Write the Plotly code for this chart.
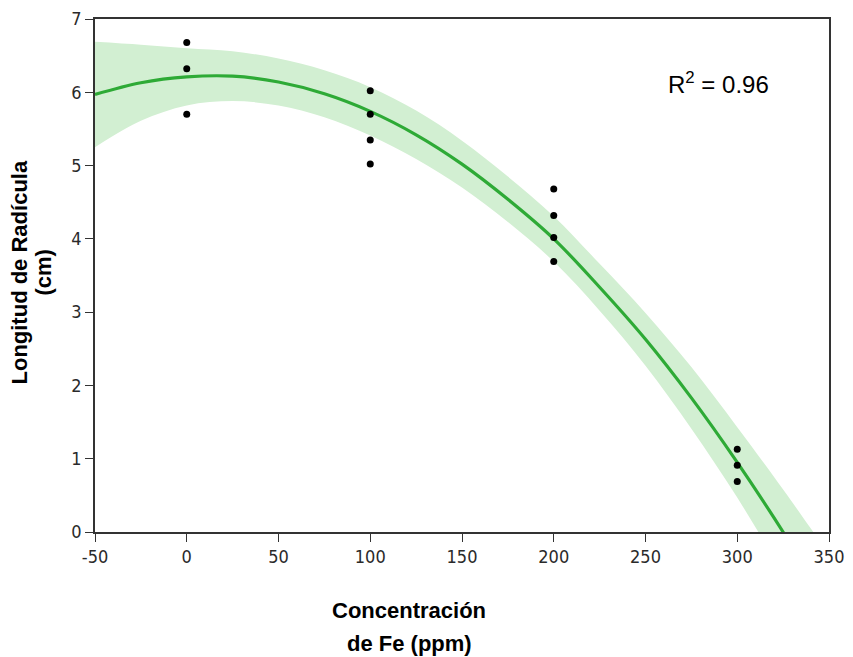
import plotly.graph_objects as go

# Observed data (Fe concentration in ppm, radicle length in cm)
fe_ppm = [0, 0, 0, 100, 100, 100, 100, 200, 200, 200, 200, 300, 300, 300]
radicle_cm = [6.68, 6.32, 5.70, 6.02, 5.70, 5.35, 5.02, 4.68, 4.32, 4.02, 3.69, 1.13, 0.91, 0.69]

# Fitted curve
fit_x = [-50, -25, 0, 25, 50, 75, 100, 125, 150, 175, 200, 225, 250, 275, 300, 325, 340]
fit_y = [5.97, 6.13, 6.21, 6.22, 6.14, 5.98, 5.74, 5.42, 5.02, 4.54, 4.00, 3.34, 2.63, 1.83, 0.95, 0.00, -0.61]

# Confidence band
band_x = [-50, -25, 0, 25, 50, 75, 100, 125, 150, 175, 200, 225, 250, 275, 300, 325, 340, 350]
band_upper = [6.69, 6.65, 6.60, 6.56, 6.46, 6.30, 6.07, 5.75, 5.34, 4.85, 4.31, 3.66, 2.99, 2.25, 1.43, 0.58, 0.05, -0.30]
band_lower = [5.25, 5.61, 5.82, 5.88, 5.82, 5.66, 5.41, 5.09, 4.70, 4.23, 3.69, 3.02, 2.27, 1.41, 0.47, -0.58, -1.27, -1.80]

x_tickvals = [-50, 0, 50, 100, 150, 200, 250, 300, 350]
x_ticktext = ["-50", "0", "50", "100", "150", "200", "250", "300", "350"]
y_tickvals = [0, 1, 2, 3, 4, 5, 6, 7]

fig = go.Figure()

fig.add_trace(go.Scatter(x=band_x, y=band_upper, mode="lines", line=dict(width=0, shape="spline"),
                         hoverinfo="skip", showlegend=False))
fig.add_trace(go.Scatter(x=band_x, y=band_lower, mode="lines", line=dict(width=0, shape="spline"),
                         fill="tonexty", fillcolor="#d2efd2", hoverinfo="skip", showlegend=False))
fig.add_trace(go.Scatter(x=fit_x, y=fit_y, mode="lines",
                         line=dict(color="#2eaa36", width=3.2, shape="spline"), showlegend=False))
fig.add_trace(go.Scatter(x=fe_ppm, y=radicle_cm, mode="markers",
                         marker=dict(color="black", size=7), showlegend=False))

tick_font = dict(family="DejaVu Sans Condensed, DejaVu Sans", size=18, color="#2a2a2a")

fig.update_xaxes(range=[-50, 350], tickvals=x_tickvals, ticktext=x_ticktext,
                 showgrid=False, zeroline=False, showline=True, linecolor="#333333", linewidth=1.5,
                 mirror=True, ticks="outside", ticklen=8, tickwidth=1.3, tickcolor="#333333",
                 tickfont=tick_font, ticklabeloverflow="allow", automargin=False)
fig.update_yaxes(range=[0, 7], tickvals=y_tickvals,
                 showgrid=False, zeroline=False, showline=True, linecolor="#333333", linewidth=1.5,
                 mirror=True, ticks="outside", ticklen=8, tickwidth=1.3, tickcolor="#333333",
                 tickfont=tick_font, ticklabeloverflow="allow", automargin=False)

title_font = dict(family="Liberation Sans, Arial", size=22, color="black")

# page body adds an 8px offset; figure sized so the plot sits where the reference has it
fig.update_layout(
    width=845, height=649,
    margin=dict(l=87, r=24, t=11, b=125, autoexpand=False),
    plot_bgcolor="white", paper_bgcolor="white",
    annotations=[
        dict(text="<b>Concentración</b>", xref="paper", yref="paper",
             x=0.5, y=0, xshift=-53, yshift=-78, xanchor="center", yanchor="middle",
             showarrow=False, font=title_font),
        dict(text="<b>de Fe (ppm)</b>", xref="paper", yref="paper",
             x=0.5, y=0, xshift=-53, yshift=-111, xanchor="center", yanchor="middle",
             showarrow=False, font=title_font),
        dict(text="<b>Longitud de Radícula</b>", xref="paper", yref="paper",
             x=0, y=0.5, xshift=-76, yshift=3, xanchor="center", yanchor="middle", textangle=-90,
             showarrow=False, font=title_font),
        dict(text="<b>(cm)</b>", xref="paper", yref="paper",
             x=0, y=0.5, xshift=-52, yshift=3, xanchor="center", yanchor="middle", textangle=-90,
             showarrow=False, font=title_font),
        dict(text="R<sup>2</sup> = 0.96", xref="x", yref="y", x=290, y=6.12,
             xanchor="center", yanchor="middle", showarrow=False,
             font=dict(family="Liberation Sans, Arial", size=24, color="black")),
    ],
)

fig.write_html("out.html")
